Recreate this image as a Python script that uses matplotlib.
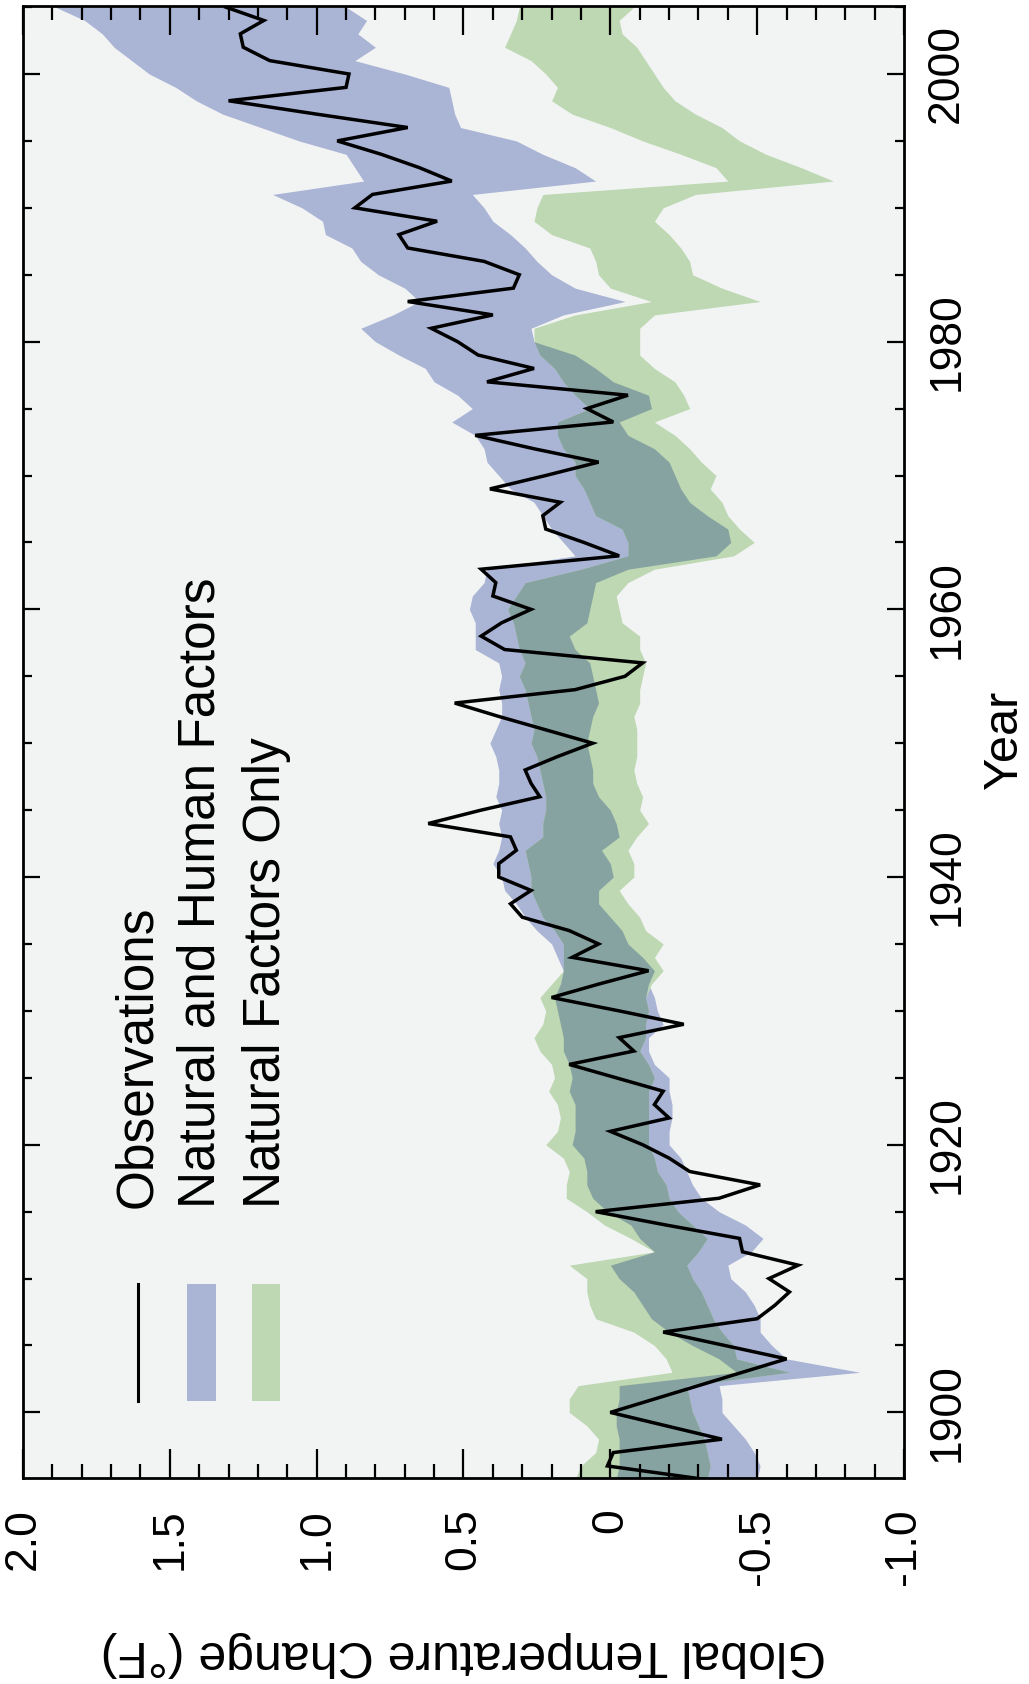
import numpy as np
import matplotlib
matplotlib.use("Agg")
import matplotlib.pyplot as plt
from matplotlib.ticker import MultipleLocator, FixedLocator

plt.rcParams['font.family'] = ['Liberation Sans', 'DejaVu Sans']

# observed global temperature change (deg F), one value per year
years = np.arange(1895, 2006)
observed = [
    -0.32, 0.01, -0.01, -0.38, -0.19, 0.00, -0.15, -0.30, -0.45, -0.60,   # 1895
    -0.39, -0.18, -0.50, -0.56, -0.61, -0.54, -0.64, -0.45, -0.44, -0.19,  # 1905
    0.05, -0.37, -0.51, -0.27, -0.20, -0.11, 0.00, -0.20, -0.15, -0.18,    # 1915
    -0.02, 0.14, -0.08, -0.03, -0.25, -0.03, 0.20, 0.04, -0.13, 0.13,      # 1925
    0.04, 0.14, 0.30, 0.34, 0.27, 0.38, 0.38, 0.32, 0.34, 0.62,            # 1935
    0.44, 0.24, 0.27, 0.29, 0.18, 0.06, 0.22, 0.38, 0.53, 0.12,            # 1945
    -0.05, -0.11, 0.36, 0.44, 0.37, 0.27, 0.40, 0.39, 0.44, -0.03,         # 1955
    0.09, 0.22, 0.23, 0.17, 0.41, 0.22, 0.04, 0.26, 0.46, -0.01,           # 1965
    0.08, -0.06, 0.42, 0.26, 0.45, 0.52, 0.61, 0.40, 0.69, 0.33,           # 1975
    0.31, 0.43, 0.69, 0.72, 0.59, 0.87, 0.81, 0.54, 0.65, 0.78,            # 1985
    0.93, 0.69, 1.00, 1.30, 0.90, 0.89, 1.16, 1.25, 1.26, 1.18,            # 1995
    1.31,                                                                  # 2005
]

# model ranges, same years: natural + human factors
human_low = [
    -0.50, -0.51, -0.49, -0.46, -0.42, -0.38, -0.38, -0.37, -0.85, -0.60,
    -0.55, -0.51, -0.51, -0.49, -0.46, -0.41, -0.40, -0.48, -0.52, -0.46,
    -0.37, -0.31, -0.28, -0.26, -0.24, -0.20, -0.20, -0.21, -0.21, -0.20,
    -0.20, -0.15, -0.13, -0.13, -0.18, -0.16, -0.15, -0.13, -0.15, -0.11,
    -0.06, -0.04, 0.00, 0.04, 0.04, -0.01, 0.00, 0.03, -0.03, -0.02,
    0.00, 0.04, 0.06, 0.06, 0.07, 0.08, 0.07, 0.06, 0.04, 0.05,
    0.06, 0.07, 0.12, 0.14, 0.08, 0.07, 0.06, 0.05, -0.06, -0.36,
    -0.41, -0.40, -0.33, -0.27, -0.24, -0.22, -0.20, -0.15, -0.06, -0.03,
    -0.14, -0.13, -0.01, 0.05, 0.12, 0.26, 0.27, 0.16, -0.05, 0.12,
    0.20, 0.25, 0.29, 0.34, 0.40, 0.43, 0.47, 0.05, 0.12, 0.23,
    0.32, 0.51, 0.53, 0.54, 0.55, 0.70, 0.87, 0.80, 0.86, 0.83,
    0.90,
]
human_high = [
    -0.02, -0.03, -0.03, -0.03, -0.02, -0.02, -0.03, -0.03, -0.43, -0.37,
    -0.28, -0.20, -0.14, -0.11, -0.08, -0.03, 0.00, -0.15, -0.10, -0.07,
    0.01, 0.06, 0.08, 0.08, 0.09, 0.13, 0.12, 0.12, 0.12, 0.14,
    0.13, 0.14, 0.16, 0.16, 0.17, 0.18, 0.19, 0.17, 0.16, 0.18,
    0.20, 0.25, 0.29, 0.32, 0.36, 0.37, 0.40, 0.38, 0.37, 0.38,
    0.37, 0.39, 0.38, 0.38, 0.39, 0.41, 0.39, 0.37, 0.37, 0.38,
    0.37, 0.38, 0.46, 0.46, 0.46, 0.48, 0.47, 0.43, 0.42, 0.12,
    0.16, 0.20, 0.23, 0.26, 0.34, 0.38, 0.42, 0.43, 0.46, 0.54,
    0.47, 0.52, 0.60, 0.63, 0.72, 0.80, 0.85, 0.74, 0.65, 0.70,
    0.79, 0.85, 0.88, 0.97, 0.98, 1.05, 1.15, 0.84, 0.87, 0.90,
    1.06, 1.19, 1.32, 1.41, 1.48, 1.57, 1.63, 1.69, 1.73, 1.79,
    1.89,
]
# natural factors only
natural_low = [
    -0.33, -0.34, -0.33, -0.32, -0.30, -0.28, -0.27, -0.26, -0.61, -0.43,
    -0.42, -0.38, -0.35, -0.33, -0.31, -0.28, -0.26, -0.30, -0.33, -0.28,
    -0.23, -0.20, -0.19, -0.16, -0.15, -0.13, -0.13, -0.13, -0.13, -0.13,
    -0.15, -0.13, -0.10, -0.12, -0.12, -0.13, -0.12, -0.14, -0.18, -0.15,
    -0.18, -0.12, -0.10, -0.06, -0.03, -0.08, -0.08, -0.06, -0.09, -0.13,
    -0.10, -0.11, -0.09, -0.08, -0.09, -0.09, -0.09, -0.08, -0.10, -0.10,
    -0.11, -0.12, -0.10, -0.10, -0.04, -0.03, -0.02, -0.06, -0.15, -0.42,
    -0.49, -0.44, -0.40, -0.38, -0.34, -0.36, -0.31, -0.27, -0.22, -0.15,
    -0.27, -0.25, -0.22, -0.15, -0.10, -0.10, -0.10, -0.15, -0.51, -0.38,
    -0.28, -0.27, -0.24, -0.20, -0.15, -0.18, -0.29, -0.76, -0.65, -0.53,
    -0.44, -0.38, -0.29, -0.22, -0.18, -0.15, -0.12, -0.09, -0.04, -0.03,
    -0.08,
]
natural_high = [
    0.12, 0.10, 0.05, 0.04, 0.08, 0.14, 0.14, 0.11, -0.21, -0.19,
    -0.15, -0.08, 0.05, 0.07, 0.08, 0.08, 0.14, -0.15, -0.07, 0.02,
    0.08, 0.15, 0.15, 0.14, 0.16, 0.22, 0.18, 0.17, 0.18, 0.21,
    0.19, 0.20, 0.24, 0.26, 0.23, 0.22, 0.24, 0.20, 0.16, 0.16,
    0.16, 0.19, 0.23, 0.25, 0.27, 0.27, 0.28, 0.29, 0.23, 0.23,
    0.22, 0.22, 0.23, 0.24, 0.25, 0.27, 0.26, 0.27, 0.28, 0.29,
    0.31, 0.29, 0.31, 0.32, 0.33, 0.35, 0.32, 0.29, 0.10, -0.06,
    -0.06, -0.04, 0.05, 0.07, 0.09, 0.12, 0.12, 0.16, 0.18, 0.18,
    0.07, 0.12, 0.16, 0.19, 0.24, 0.26, 0.26, 0.12, -0.14, 0.00,
    0.04, 0.05, 0.07, 0.20, 0.26, 0.25, 0.23, -0.40, -0.36, -0.24,
    -0.11, 0.00, 0.13, 0.20, 0.18, 0.22, 0.27, 0.36, 0.34, 0.32,
    0.31,
]

legend_labels = ['Observations', 'Natural and Human Factors', 'Natural Factors Only']

blue = '#aab4d5'
green = '#bdd8b2'
both = '#87a3a1'

fig = plt.figure(figsize=(10.29, 16.84), dpi=100)
ax = fig.add_axes([23 / 1029, 1 - 1478 / 1684, 881 / 1029, 1472 / 1684])
ax.set_facecolor('#f2f4f4')

hl, hh = np.array(human_low), np.array(human_high)
nl, nh = np.array(natural_low), np.array(natural_high)
ax.fill_betweenx(years, hl, hh, color=blue, lw=0)
ax.fill_betweenx(years, nl, nh, color=green, lw=0)
# where the two model ranges overlap
lo, hi = np.maximum(hl, nl), np.minimum(hh, nh)
ax.fill_betweenx(years, lo, hi, where=lo < hi, interpolate=True,
                 color=both, lw=0)

ax.plot(observed, years, color='black', lw=2.5, solid_joinstyle='miter')

ax.set_xlim(2.0, -1.0)
ax.set_ylim(1895.1, 2005.08)

# temperature axis runs along the bottom, years up the right side
ax.xaxis.set_major_locator(FixedLocator([2.0, 1.5, 1.0, 0.5, 0.0, -0.5, -1.0]))
ax.set_xticklabels(['2.0', '1.5', '1.0', '0.5', '0', '-0.5', '-1.0'])
ax.xaxis.set_minor_locator(MultipleLocator(0.1))
ax.yaxis.set_major_locator(MultipleLocator(20))
ax.yaxis.set_minor_locator(MultipleLocator(5))

ax.tick_params(axis='x', which='both', direction='in', top=True, bottom=True,
               width=1.6, labelsize=32, labelrotation=90, pad=22)
ax.tick_params(axis='x', which='major', length=21)
ax.tick_params(axis='x', which='minor', length=10)
ax.tick_params(axis='y', which='both', direction='in', left=True, right=True,
               labelleft=False, labelright=True, width=1.6, labelsize=32,
               labelrotation=90, pad=16)
ax.tick_params(axis='y', which='major', length=12.5)
ax.tick_params(axis='y', which='minor', length=6.5)
for lab in ax.get_yticklabels():
    lab.set_va('center')
for s in ax.spines.values():
    s.set_linewidth(2.0)

fig.text(463 / 1029, 1 - 1654 / 1684, 'Global Temperature Change (°F)',
         rotation=180, ha='center', va='center', fontsize=36)
fig.text(1004 / 1029, 1 - 740 / 1684, 'Year', rotation=90,
         ha='center', va='center', fontsize=35)

# legend drawn sideways in the lower left corner
ax.plot([0.1305, 0.1305], [0.052, 0.132], color='black', lw=2.2,
        transform=ax.transAxes)
ax.add_patch(plt.Rectangle((0.186, 0.052), 0.033, 0.080, color=blue,
                           transform=ax.transAxes, lw=0))
ax.add_patch(plt.Rectangle((0.260, 0.052), 0.032, 0.080, color=green,
                           transform=ax.transAxes, lw=0))
for xpos, text in zip([0.1305, 0.2025, 0.276], legend_labels):
    ax.text(xpos, 0.1834, text, rotation=90, ha='center', va='bottom',
            fontsize=37, transform=ax.transAxes)

fig.savefig('out.png', dpi=100)
